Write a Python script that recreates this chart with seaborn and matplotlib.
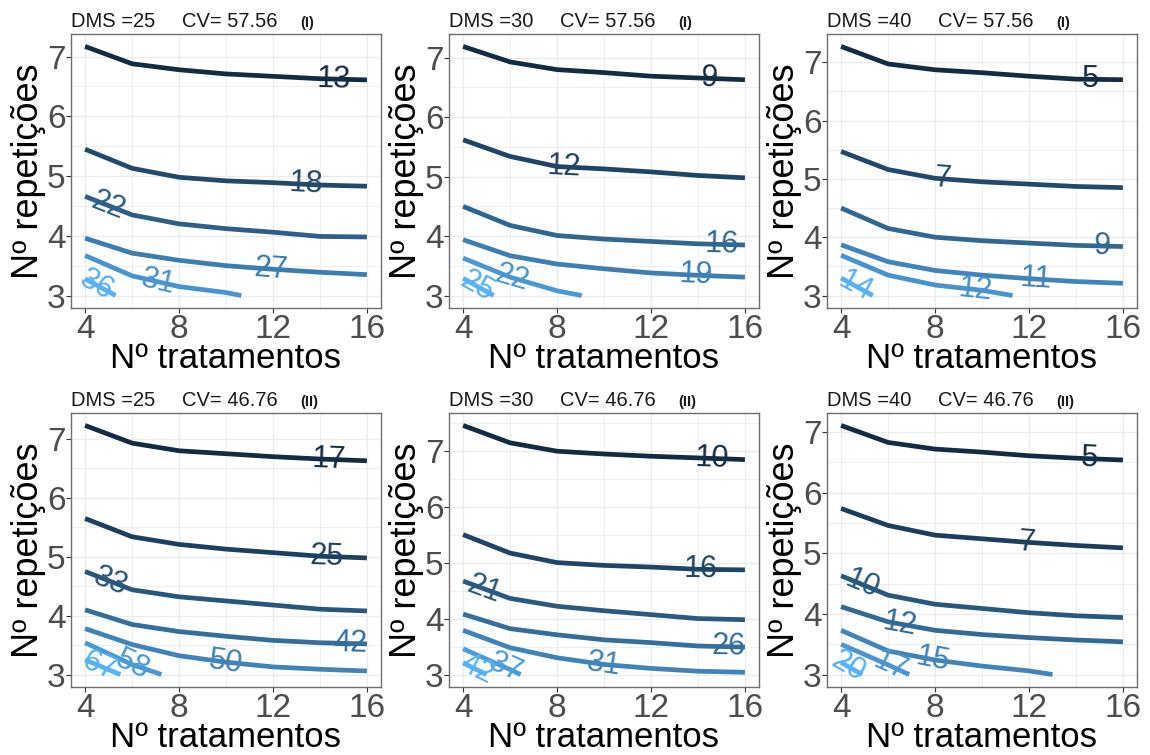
import numpy as np
import pandas as pd
import matplotlib
matplotlib.use("Agg")
import matplotlib.pyplot as plt
import seaborn as sns
from matplotlib.colors import to_rgb, to_hex

sns.set_theme(style="ticks")
plt.rcParams['font.family'] = ['Liberation Sans', 'DejaVu Sans']

XG = [4, 6, 8, 10, 12, 14, 16]

# ---------------- Panel 1 ----------------
P1_TITLE = ["DMS =25", "CV= 57.56", "(I)"]
P1_LEVELS = [13, 18, 22, 27, 31, 36]
P1_X = [XG, XG, XG, XG, [4, 6, 8, 10, 10.65], [4, 5.3]]
P1_Y = [[7.17, 6.88, 6.78, 6.71, 6.67, 6.63, 6.61],
        [5.45, 5.13, 4.98, 4.92, 4.89, 4.85, 4.83],
        [4.66, 4.35, 4.20, 4.12, 4.06, 3.99, 3.98],
        [3.96, 3.71, 3.59, 3.50, 3.44, 3.39, 3.35],
        [3.67, 3.33, 3.15, 3.05, 3.00],
        [3.28, 3.00]]
P1_LABEL_X = [14.6, 13.4, 5.0, 11.9, 7.1, 4.5]

# ---------------- Panel 2 ----------------
P2_TITLE = ["DMS =30", "CV= 57.56", "(I)"]
P2_LEVELS = [9, 12, 16, 19, 22, 25]
P2_X = [XG, XG, XG, XG, [4, 6, 8, 9.05], [4, 5.3]]
P2_Y = [[7.19, 6.93, 6.80, 6.75, 6.69, 6.66, 6.63],
        [5.62, 5.34, 5.17, 5.13, 5.08, 5.02, 4.98],
        [4.50, 4.18, 4.01, 3.95, 3.91, 3.87, 3.85],
        [3.94, 3.67, 3.53, 3.45, 3.38, 3.34, 3.31],
        [3.63, 3.31, 3.08, 3.00],
        [3.29, 3.00]]
P2_LABEL_X = [14.5, 8.3, 15.0, 13.9, 6.1, 4.6]

# ---------------- Panel 3 ----------------
P3_TITLE = ["DMS =40", "CV= 57.56", "(I)"]
P3_LEVELS = [5, 7, 9, 11, 12, 14]
P3_X = [XG, XG, XG, XG, [4, 6, 8, 10, 11.3], [4, 5.35]]
P3_Y = [[7.27, 6.97, 6.87, 6.82, 6.76, 6.71, 6.70],
        [5.47, 5.16, 5.01, 4.95, 4.91, 4.87, 4.85],
        [4.50, 4.15, 4.00, 3.94, 3.90, 3.86, 3.84],
        [3.87, 3.58, 3.43, 3.35, 3.29, 3.24, 3.21],
        [3.69, 3.35, 3.18, 3.09, 3.00],
        [3.30, 3.00]]
P3_LABEL_X = [14.6, 8.3, 15.1, 12.3, 9.7, 4.6]

# ---------------- Panel 4 ----------------
P4_TITLE = ["DMS =25", "CV= 46.76", "(II)"]
P4_LEVELS = [17, 25, 33, 42, 50, 58, 67]
P4_X = [XG, XG, XG, XG, XG, [4, 6, 7.25], [4, 5.5]]
P4_Y = [[7.23, 6.93, 6.80, 6.75, 6.70, 6.66, 6.63],
        [5.65, 5.34, 5.21, 5.13, 5.07, 5.01, 4.98],
        [4.75, 4.44, 4.32, 4.25, 4.18, 4.11, 4.08],
        [4.10, 3.85, 3.73, 3.65, 3.58, 3.54, 3.52],
        [3.78, 3.51, 3.32, 3.21, 3.13, 3.09, 3.06],
        [3.54, 3.17, 3.00],
        [3.25, 3.00]]
P4_LABEL_X = [14.4, 14.3, 5.1, 15.3, 10.0, 6.0, 4.6]

# ---------------- Panel 5 ----------------
P5_TITLE = ["DMS =30", "CV= 46.76", "(II)"]
P5_LEVELS = [10, 16, 21, 26, 31, 37, 42]
P5_X = [XG, XG, XG, XG, XG, [4, 6, 6.45], [4, 5.0]]
P5_Y = [[7.45, 7.14, 6.99, 6.94, 6.90, 6.87, 6.84],
        [5.50, 5.17, 5.00, 4.95, 4.92, 4.88, 4.87],
        [4.67, 4.36, 4.22, 4.14, 4.07, 4.00, 3.98],
        [4.08, 3.82, 3.71, 3.62, 3.57, 3.51, 3.49],
        [3.79, 3.48, 3.30, 3.18, 3.11, 3.06, 3.04],
        [3.46, 3.09, 3.00],
        [3.21, 3.00]]
P5_LABEL_X = [14.6, 14.1, 4.9, 15.3, 10.0, 5.8, 4.6]

# ---------------- Panel 6 ----------------
P6_TITLE = ["DMS =40", "CV= 46.76", "(II)"]
P6_LEVELS = [5, 7, 10, 12, 15, 17, 20]
P6_X = [XG, XG, XG, XG, [4, 6, 8, 10, 12, 13.0], [4, 6, 6.9], [4, 4.9]]
P6_Y = [[7.11, 6.83, 6.72, 6.67, 6.61, 6.57, 6.54],
        [5.74, 5.46, 5.30, 5.24, 5.18, 5.13, 5.09],
        [4.63, 4.31, 4.16, 4.09, 4.02, 3.97, 3.94],
        [4.12, 3.87, 3.73, 3.66, 3.61, 3.57, 3.54],
        [3.73, 3.39, 3.24, 3.14, 3.06, 3.00],
        [3.50, 3.16, 3.00],
        [3.20, 3.00]]
P6_LABEL_X = [14.6, 11.9, 4.9, 6.5, 7.9, 6.1, 4.3]

PANELS = [
    (P1_TITLE, P1_LEVELS, P1_X, P1_Y, P1_LABEL_X),
    (P2_TITLE, P2_LEVELS, P2_X, P2_Y, P2_LABEL_X),
    (P3_TITLE, P3_LEVELS, P3_X, P3_Y, P3_LABEL_X),
    (P4_TITLE, P4_LEVELS, P4_X, P4_Y, P4_LABEL_X),
    (P5_TITLE, P5_LEVELS, P5_X, P5_Y, P5_LABEL_X),
    (P6_TITLE, P6_LEVELS, P6_X, P6_Y, P6_LABEL_X),
]

LOW = np.array(to_rgb("#132B43"))
HIGH = np.array(to_rgb("#56B1F7"))

W, H = 1150, 755
fig = plt.figure(figsize=(W / 100, H / 100), dpi=100)
fig.patch.set_facecolor("white")

col_left = [71, 449, 827]
row_top = [34, 413]
pw, ph = 310, 274

for i, (title, levels, xs, ys, lab_x) in enumerate(PANELS):
    r, c = divmod(i, 3)
    left = col_left[c] / W
    bottom = 1 - (row_top[r] + ph) / H
    ax = fig.add_axes([left, bottom, pw / W, ph / H])

    lo, hi = min(levels), max(levels)
    pal = {}
    for lv in levels:
        t = (lv - lo) / (hi - lo)
        pal[lv] = to_hex(LOW + (HIGH - LOW) * t)

    rows = []
    for lv, xx, yy in zip(levels, xs, ys):
        for a, b in zip(xx, yy):
            rows.append({"x": a, "y": b, "level": lv})
    df = pd.DataFrame(rows)

    sns.lineplot(data=df, x="x", y="y", hue="level", palette=pal,
                 estimator=None, sort=False, legend=False, ax=ax,
                 linewidth=3.4, solid_capstyle="butt")

    ymin = df["y"].min(); ymax = df["y"].max()
    pad = (ymax - ymin) * 0.05
    ax.set_xlim(3.4, 16.6)
    ax.set_ylim(ymin - pad, ymax + pad)

    ax.set_xticks([4, 8, 12, 16])
    ax.set_xticks([6, 10, 14], minor=True)
    ax.set_yticks([3, 4, 5, 6, 7])
    ax.set_yticks([v for v in [3.5, 4.5, 5.5, 6.5, 7.5] if v < ymax + pad], minor=True)
    ax.grid(which="major", color="#EBEBEB", linewidth=1.0)
    ax.grid(which="minor", color="#EBEBEB", linewidth=0.6)
    ax.set_axisbelow(True)
    ax.tick_params(which="major", direction="out", length=3.5, width=0.8,
                   color="#333333", labelsize=24, labelcolor="#4D4D4D", pad=0.5,
                   bottom=True, left=True)
    ax.tick_params(which="minor", length=0)
    for s in ax.spines.values():
        s.set_color("#6E6E6E")
        s.set_linewidth(1.0)

    ax.set_xlabel("Nº tratamentos", fontsize=25, color="black")
    ax.set_ylabel("Nº repetições", fontsize=26, color="black")
    ax.xaxis.set_label_coords(0.5, -0.125)
    ax.yaxis.set_label_coords(-0.082, 0.5)

    # contour labels on the lines
    for lv, xx, yy, lx in zip(levels, xs, ys, lab_x):
        xx = np.asarray(xx, float); yy = np.asarray(yy, float)
        ly = np.interp(lx, xx, yy)
        k = np.clip(np.searchsorted(xx, lx) - 1, 0, len(xx) - 2)
        p0 = ax.transData.transform((xx[k], yy[k]))
        p1 = ax.transData.transform((xx[k + 1], yy[k + 1]))
        ang = np.degrees(np.arctan2(p1[1] - p0[1], p1[0] - p0[0]))
        ax.text(lx, ly, str(lv), color=pal[lv], fontsize=22, ha="center",
                va="center", rotation=ang, rotation_mode="anchor", zorder=5)

    ax.text(0.0, 1.027, title[0], transform=ax.transAxes, fontsize=14.5,
            color="#1A1A1A", va="baseline", ha="left")
    ax.text(0.358, 1.027, title[1], transform=ax.transAxes, fontsize=14.5,
            color="#1A1A1A", va="baseline", ha="left")
    ax.text(0.739, 1.027, title[2], transform=ax.transAxes, fontsize=10.5,
            color="#1A1A1A", va="baseline", ha="left", fontweight="bold")

fig.savefig("out.png", dpi=100, facecolor="white")
